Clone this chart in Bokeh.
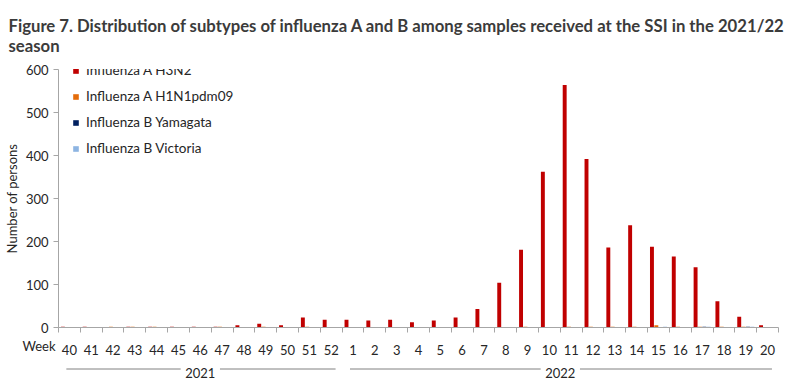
import numpy as np
from bokeh.plotting import figure
from bokeh.layouts import column
from bokeh.models import (ColumnDataSource, Range1d, FixedTicker, Legend, LegendItem, Title)
from bokeh.core.properties import value
from bokeh.transform import dodge
from bokeh.embed import file_html
from bokeh.resources import INLINE

weeks = ["40", "41", "42", "43", "44", "45", "46", "47", "48", "49", "50", "51", "52",
         "1", "2", "3", "4", "5", "6", "7", "8", "9", "10", "11", "12", "13", "14",
         "15", "16", "17", "18", "19", "20"]
h3n2 = [2, 2, 0, 2, 2, 2, 2, 2, 5, 9, 5, 23, 18,
        18, 16, 18, 12, 16, 23, 43, 104, 181, 362, 564, 392, 186, 238,
        188, 165, 140, 61, 25, 5]
h1n1 = [0, 0, 2, 2, 2, 0, 0, 2, 0, 2, 0, 2, 0,
        0, 0, 0, 0, 0, 0, 0, 0, 2, 0, 2, 2, 2, 2,
        5, 2, 2, 2, 2, 0]
yamagata = [0] * 29 + [2, 0, 2, 0]
victoria = [0] * 27 + [2, 0, 2, 0, 2, 0]
years = ["2021", "2022"]
year_weeks = [13, 20]
series_names = ["Influenza A H3N2", "Influenza A H1N1pdm09", "Influenza B Yamagata", "Influenza B Victoria"]
colors = ["#C00000", "#E46C0A", "#002060", "#8DB4E2"]
title_text = ("Figure 7. Distribution of subtypes of influenza A and B among samples received at the SSI in the 2021/22"
              "\nseason")

FONT = "Lato"
TXT = "#262626"
AX = "#A6A6A6"

W = 784
LEFT, RIGHT = 50, 6
TOP = 62
FRAME_H = 265
BOTTOM = 10
n = len(weeks)
xr = Range1d(0, n)

def bare(fig):
    fig.outline_line_color = None
    fig.xgrid.grid_line_color = None
    fig.ygrid.grid_line_color = None
    return fig

MH = TOP + FRAME_H + BOTTOM
src = ColumnDataSource(dict(x=np.arange(n) + 0.5, h3n2=h3n2, h1n1=h1n1,
                            yam=yamagata, vic=victoria))

p = bare(figure(width=W, height=MH, output_backend="svg", toolbar_location=None,
                x_range=xr, y_range=Range1d(0, 600),
                min_border_left=LEFT, min_border_right=RIGHT,
                min_border_top=TOP, min_border_bottom=BOTTOM))

p.title = Title(text=title_text, text_font=FONT, text_font_size="16.7px", text_font_style="bold",
                text_color="#3B3B3B", text_line_height=1.0, align="left", offset=-LEFT, standoff=27)

offsets = [-0.3, -0.1, 0.1, 0.3]
cols = ["h3n2", "h1n1", "yam", "vic"]
items = []
for c, off, col, name in zip(cols, offsets, colors, series_names):
    r = p.vbar(x=dodge("x", off), top=c, width=0.18, bottom=0, source=src,
               fill_color=col, line_color=None)
    items.append(LegendItem(label=name, renderers=[r]))

legend = Legend(items=items, location=(14, FRAME_H - 94), margin=0, padding=0,
                glyph_width=7, glyph_height=7, label_height=16, spacing=10,
                label_standoff=7, border_line_color=None, background_fill_alpha=0,
                label_text_font=FONT, label_text_font_size="13.5px", label_text_color=TXT)
p.add_layout(legend, "center")

p.yaxis.ticker = FixedTicker(ticks=[0, 100, 200, 300, 400, 500, 600])
p.yaxis.axis_label = "Number of persons"
p.yaxis.axis_label_text_font = FONT
p.yaxis.axis_label_text_font_size = "13px"
p.yaxis.axis_label_text_font_style = "normal"
p.yaxis.axis_label_text_color = TXT
p.yaxis.axis_label_standoff = 3
p.yaxis.major_label_text_font = FONT
p.yaxis.major_label_text_font_size = "13px"
p.yaxis.major_label_text_color = TXT
p.yaxis.major_label_standoff = 5
p.yaxis.axis_line_color = AX
p.yaxis.major_tick_line_color = AX
p.yaxis.major_tick_out = 5
p.yaxis.major_tick_in = 0
p.yaxis.minor_tick_line_color = None

# x axis: line and ticks at category boundaries (labels are in the strip below)
p.xaxis.ticker = FixedTicker(ticks=[], minor_ticks=list(range(n + 1)))
p.xaxis.major_tick_line_color = None
p.xaxis.major_tick_out = 0
p.xaxis.minor_tick_line_color = AX
p.xaxis.minor_tick_out = 5
p.xaxis.minor_tick_in = 0
p.xaxis.axis_line_color = AX
p.xaxis.major_label_standoff = 0

# strip below: week labels, "Week", year groups
BH = 44
b = bare(figure(width=W, height=BH, output_backend="svg", toolbar_location=None,
                x_range=xr, y_range=Range1d(BH, 0), x_axis_location=None,
                min_border_left=LEFT, min_border_right=RIGHT,
                min_border_top=0, min_border_bottom=0))
b.yaxis.ticker = FixedTicker(ticks=[7.5])
b.yaxis.major_label_overrides = {7.5: "Week"}
b.yaxis.axis_line_color = None
b.yaxis.major_tick_line_color = None
b.yaxis.minor_tick_line_color = None
b.yaxis.major_tick_out = 0
b.yaxis.major_label_standoff = 3
b.yaxis.major_label_text_font = FONT
b.yaxis.major_label_text_font_size = "13px"
b.yaxis.major_label_text_color = TXT

lab = ColumnDataSource(dict(x=np.arange(n) + 0.5, week=weeks))
b.text(x="x", y=12, text="week", source=lab, text_font=value(FONT), text_font_size="13px",
       text_color=TXT, text_align="center", text_baseline="alphabetic")

starts = np.cumsum([0] + year_weeks[:-1])
mids = starts + np.array(year_weeks) / 2
ends = starts + np.array(year_weeks)
b.text(x=mids, y=[35.5] * len(years), text=years, text_font=value(FONT), text_font_size="13px",
       text_color=TXT, text_align="center", text_baseline="alphabetic")
gap = 0.9
x0 = list(starts + 0.36) + list(mids + gap)
x1 = list(mids - gap) + list(ends - 0.3)
b.segment(x0=x0, x1=x1, y0=[31.5] * len(x0), y1=[31.5] * len(x0), line_color="#808080", line_width=1)

layout = column(p, b, spacing=0)
open("out.html", "w").write(file_html(layout, INLINE))
